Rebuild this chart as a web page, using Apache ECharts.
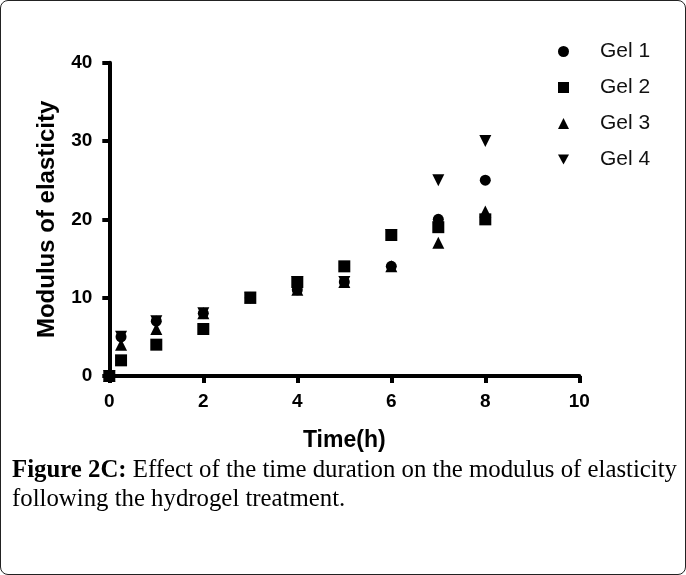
<!DOCTYPE html>
<html>
<head>
<meta charset="utf-8">
<script src="https://cdn.jsdelivr.net/npm/echarts@6/dist/echarts.min.js"></script>
<style>
  html, body { margin: 0; padding: 0; background: #fff; }
  #chart {
    position: absolute; left: 0; top: 0;
    width: 684px; height: 573px;
    border: 1px solid #222; border-radius: 8px;
  }
</style>
</head>
<body>
<div id="chart"></div>
<script>
// time points (h)
let hours = [0, 0.25, 1, 2, 3, 4, 5, 6, 7, 8];

// modulus of elasticity, one list per gel
let gel1 = [0, 5, 7, 8, 10, 11, 12, 14, 20, 25];
let gel2 = [0, 2, 4, 6, 10, 12, 14, 18, 19, 20];
let gel3 = [0, 4, 6, 8, 10, 11, 12, 14, 17, 21];
let gel4 = [0, 5, 7, 8, 10, 12, 12, 18, 25, 30];

let gel_names = ['Gel 1', 'Gel 2', 'Gel 3', 'Gel 4'];
let gel_symbols = ['circle', 'rect', 'triangle', 'path://M0,0 L10,0 L5,9 Z'];

let caption_line1 = 'Effect of the time duration on the modulus of elasticity';
let caption_line2 = 'following the hydrogel treatment.';


function pairs(ys) {
    return hours.map(function (h, i) {
        return [h, ys[i]];
    });
}


document.addEventListener("DOMContentLoaded", () => {
    draw_chart();
});


function draw_chart() {
    var all = [gel1, gel2, gel3, gel4];
    var sizes = [11, 12, 12, 12];

    var series = all.map(function (ys, i) {
        return {
            name: gel_names[i],
            type: 'scatter',
            symbol: gel_symbols[i],
            symbolSize: sizes[i],
            itemStyle: { color: '#000', opacity: 1 },
            data: pairs(ys)
        };
    });

    var axis_font = {
        color: '#000',
        fontFamily: 'Liberation Sans',
        fontWeight: 'bold',
        fontSize: 19
    };

    var title_font = {
        color: '#000',
        fontFamily: 'Liberation Sans',
        fontWeight: 'bold',
        fontSize: 23
    };

    echarts.init(document.querySelector("#chart")).setOption({
        animation: false,
        grid: {
            left: 108.3,
            top: 61.7,
            width: 470,
            height: 313.3
        },
        legend: {
            orient: 'vertical',
            left: 552,
            top: 35,
            itemWidth: 11,
            itemHeight: 11,
            itemGap: 15,
            data: gel_names,
            itemStyle: { opacity: 1 },
            textStyle: {
                color: '#111',
                fontFamily: 'Liberation Sans',
                fontSize: 21,
                padding: [0, 0, 0, 26]
            }
        },
        xAxis: {
            type: 'value',
            min: 0,
            max: 10,
            interval: 2,
            splitLine: { show: false },
            axisLine: { lineStyle: { color: '#000', width: 4 } },
            axisTick: { length: 7, lineStyle: { color: '#000', width: 4 } },
            axisLabel: Object.assign({ margin: 16 }, axis_font),
            name: 'Time(h)',
            nameLocation: 'middle',
            nameGap: 53,
            nameTextStyle: title_font
        },
        yAxis: {
            type: 'value',
            min: 0,
            max: 40,
            interval: 10,
            splitLine: { show: false },
            axisLine: { lineStyle: { color: '#000', width: 4 } },
            axisTick: { length: 7, lineStyle: { color: '#000', width: 4 } },
            axisLabel: Object.assign({ margin: 17 }, axis_font),
            name: 'Modulus of elasticity',
            nameLocation: 'middle',
            nameGap: 50,
            nameTextStyle: Object.assign({}, title_font, { fontSize: 24 })
        },
        graphic: [
            {
                type: 'text',
                left: 11,
                top: 457,
                style: {
                    text: '{b|Figure 2C:} ' + caption_line1,
                    fill: '#000',
                    font: '24.8px "Liberation Serif"',
                    rich: {
                        b: { fontWeight: 'bold', fontFamily: 'Liberation Serif', fontSize: 24.8 }
                    }
                }
            },
            {
                type: 'text',
                left: 11,
                top: 486,
                style: {
                    text: caption_line2,
                    fill: '#000',
                    font: '24.8px "Liberation Serif"'
                }
            }
        ],
        series: series
    });
}
</script>
</body>
</html>
